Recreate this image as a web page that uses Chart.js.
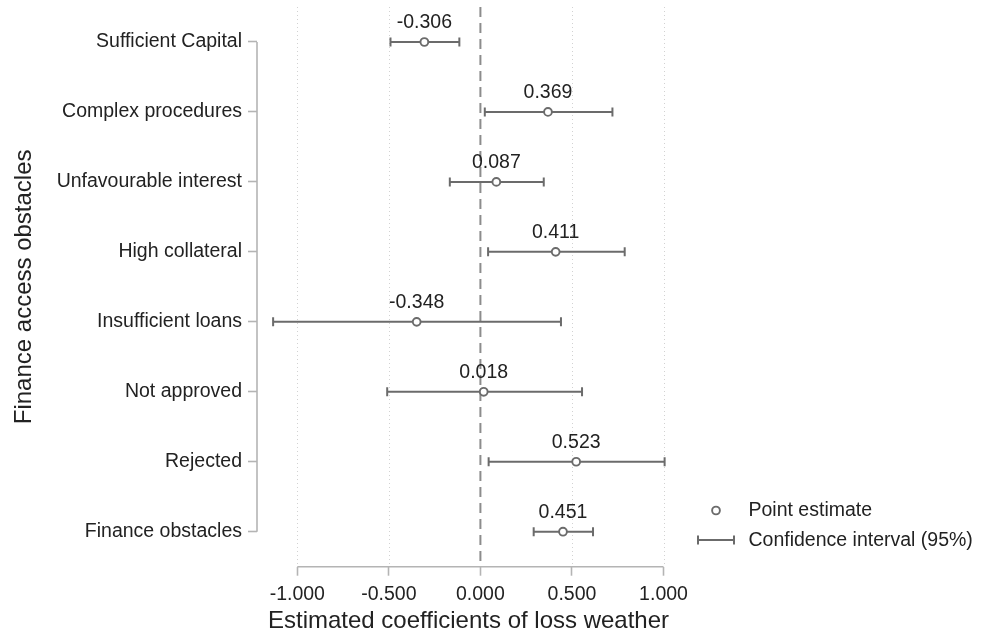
<!DOCTYPE html>
<html><head><meta charset="utf-8">
<script src="https://cdn.jsdelivr.net/npm/chart.js@4"></script>
<style>html,body{margin:0;padding:0;background:#fff}</style>
</head><body>
<canvas id="c" width="981" height="641" style="width:981px;height:641px;display:block"></canvas>
<script>
// ---- data ----
const categories = ['Sufficient Capital','Complex procedures','Unfavourable interest','High collateral','Insufficient loans','Not approved','Rejected','Finance obstacles'];
const estimates = [-0.306, 0.369, 0.087, 0.411, -0.348, 0.018, 0.523, 0.451];
const ciLow  = [-0.491, 0.024, -0.167, 0.042, -1.132, -0.509, 0.045, 0.291];
const ciHigh = [-0.115, 0.721,  0.346, 0.788,  0.440,  0.555, 1.006, 0.615];
const xTickValues = [-1, -0.5, 0, 0.5, 1];
const xTitle = 'Estimated coefficients of loss weather';
const yTitle = 'Finance access obstacles';
const legendLabels = ['Point estimate', 'Confidence interval (95%)'];

// ---- styles ----
const FONT = '"Liberation Sans", Arial, sans-serif';
const MARK = '#6b6b6b';
const TEXT = '#222222';
const AXIS = '#b4b4b4';

const datasets = [{
  label: legendLabels[0],
  data: categories.map((c, i) => ({x: estimates[i], y: c})),
  pointStyle: 'circle', pointRadius: 3.9, pointBorderWidth: 1.9,
  pointBorderColor: MARK, pointBackgroundColor: '#ffffff', showLine: false
}];
categories.forEach((c, i) => {
  datasets.push({
    label: legendLabels[1],
    data: [{x: ciLow[i], y: c}, {x: ciHigh[i], y: c}],
    showLine: true, borderColor: MARK, borderWidth: 2,
    pointStyle: 'line', pointRotation: 90, pointRadius: 4.5,
    pointBorderColor: MARK, pointBorderWidth: 2
  });
});

const decor = {
  id: 'decor',
  beforeDatasetsDraw(chart) {
    const {ctx, chartArea: a, scales: {x, y}} = chart;
    ctx.save();
    // dotted grid
    ctx.lineWidth = 1; ctx.strokeStyle = '#d2d2d2'; ctx.setLineDash([1, 3]);
    xTickValues.forEach(v => {
      if (v === 0) return;
      const px = Math.round(x.getPixelForValue(v)) + 0.5;
      ctx.beginPath(); ctx.moveTo(px, a.top); ctx.lineTo(px, a.bottom); ctx.stroke();
    });
    // zero dashed line
    ctx.lineWidth = 2; ctx.strokeStyle = '#8c8c8c'; ctx.setLineDash([10, 6]);
    const z = x.getPixelForValue(0);
    ctx.beginPath(); ctx.moveTo(z, a.top); ctx.lineTo(z, a.bottom); ctx.stroke();
    ctx.setLineDash([]);
    // axis lines (Stata style, limited extents)
    ctx.lineWidth = 1.6; ctx.strokeStyle = AXIS;
    ctx.beginPath();
    ctx.moveTo(x.getPixelForValue(xTickValues[0]), a.bottom);
    ctx.lineTo(x.getPixelForValue(xTickValues[xTickValues.length - 1]), a.bottom);
    ctx.stroke();
    ctx.beginPath();
    ctx.moveTo(a.left, y.getPixelForValue(0));
    ctx.lineTo(a.left, y.getPixelForValue(categories.length - 1));
    ctx.stroke();
    ctx.restore();
  },
  afterDatasetsDraw(chart) {
    const {ctx, scales: {x, y}} = chart;
    ctx.save();
    ctx.font = '19.5px ' + FONT; ctx.fillStyle = TEXT;
    ctx.textAlign = 'center'; ctx.textBaseline = 'middle';
    estimates.forEach((v, i) => {
      ctx.fillText(v.toFixed(3), x.getPixelForValue(v), y.getPixelForValue(i) - 19.5);
    });
    ctx.restore();
  },
  afterDraw(chart) {
    const {ctx} = chart;
    ctx.save();
    ctx.strokeStyle = MARK; ctx.lineWidth = 1.9;
    ctx.beginPath(); ctx.arc(716, 510.5, 3.9, 0, Math.PI * 2);
    ctx.fillStyle = '#fff'; ctx.fill(); ctx.stroke();
    ctx.lineWidth = 2;
    ctx.beginPath();
    ctx.moveTo(698, 540); ctx.lineTo(734, 540);
    ctx.moveTo(698, 535.5); ctx.lineTo(698, 544.5);
    ctx.moveTo(734, 535.5); ctx.lineTo(734, 544.5);
    ctx.stroke();
    ctx.font = '19.5px ' + FONT; ctx.fillStyle = TEXT;
    ctx.textAlign = 'left'; ctx.textBaseline = 'middle';
    ctx.fillText(legendLabels[0], 748.5, 511);
    ctx.fillText(legendLabels[1], 748.5, 540.5);
    ctx.restore();
  }
};

new Chart(document.getElementById('c'), {
  type: 'scatter',
  data: {labels: categories, datasets},
  plugins: [decor],
  options: {
    responsive: false, animation: false, devicePixelRatio: 1,
    layout: {padding: {left: 0, right: 301, top: 7, bottom: 0}},
    plugins: {legend: {display: false}, tooltip: {enabled: false}},
    events: [],
    scales: {
      x: {
        type: 'linear', min: -1.22, max: 1.09,
        afterBuildTicks: s => { s.ticks = xTickValues.map(v => ({value: v})); },
        afterFit: s => { s.height = 74.3; s.paddingLeft = 0; s.paddingRight = 0; },
        ticks: {callback: v => Number(v).toFixed(3), font: {family: FONT, size: 19.5}, color: TEXT, padding: 7, maxRotation: 0, autoSkip: false},
        grid: {display: true, drawOnChartArea: false, drawTicks: true, tickLength: 9, tickColor: AXIS, tickWidth: 1.6},
        border: {display: false},
        title: {display: true, text: xTitle, font: {family: FONT, size: 24}, color: TEXT, padding: 5}
      },
      y: {
        type: 'category', labels: categories, offset: true,
        afterFit: s => { s.width = 257; s.paddingTop = 0; s.paddingBottom = 0; },
        ticks: {font: {family: FONT, size: 19.5}, color: TEXT, padding: 6, autoSkip: false},
        grid: {display: true, offset: false, drawOnChartArea: false, drawTicks: true, tickLength: 9, tickColor: AXIS, tickWidth: 1.6},
        border: {display: false},
        title: {display: true, text: yTitle, font: {family: FONT, size: 24}, color: TEXT, padding: 10}
      }
    }
  }
});
</script>
</body></html>
